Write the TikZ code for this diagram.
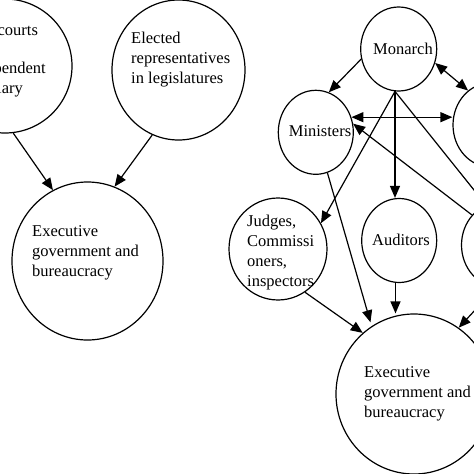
\documentclass[tikz,border=0pt]{standalone}
\usepackage{fontspec}
\setmainfont{Liberation Serif}
\usepackage{tikz}
\usetikzlibrary{shapes.geometric,arrows.meta,positioning}

\begin{document}
\begin{tikzpicture}[
    x=1pt, y=-1pt,
    actor/.style={ellipse, draw, line width=1.2pt, inner sep=0pt, minimum width=75pt, minimum height=84pt},
    txt/.style={inner sep=0pt, align=left, font=\fontsize{16.5}{20}\selectfont},
    flow/.style={-{Triangle[length=12pt,width=10pt]}, line width=1.2pt},
    twoway/.style={{Triangle[length=12pt,width=10pt]}-{Triangle[length=12pt,width=10pt]}, line width=1.2pt}
]
    \useasboundingbox (0,0) rectangle (474,474);
    \clip (0,0) rectangle (474,474);

    % left: two circles feeding the executive
    \node[actor, minimum width=134pt, minimum height=134pt] (courts) at (5,66) {};
    \node[actor, minimum width=133pt, minimum height=140pt] (elected) at (178.5,70) {};
    \node[actor, minimum width=151pt, minimum height=158pt] (execL) at (87.5,261) {};

    \node[txt, anchor=north west] (courts-l) at (-36,24) {Law courts\\[18.5pt]Independent\\judiciary};
    \node[txt, anchor=north west] (elected-l) at (131,32) {Elected\\representatives\\in legislatures};
    \node[txt, anchor=north west] (execL-l) at (32,225) {Executive\\government and\\bureaucracy};

    \draw[flow] (courts.277) -- (execL.116);
    \draw[flow] (elected.248) -- (execL.70);

    % right: the crown side
    \node[actor, minimum width=76pt] (monarch) at (398.7,49) {};
    \node[actor] (ministers) at (315.8,132.3) {};
    \node[actor] (parliament) at (490.5,125) {};
    \node[actor, minimum width=98pt, minimum height=102pt] (judges) at (278,249) {};
    \node[actor] (auditors) at (399.2,240.5) {};
    \node[actor] (ombudsman) at (499,245) {};
    \node[actor, minimum width=156pt, minimum height=160pt] (execR) at (414,394) {};

    \node[txt] (monarch-l) at (403,48.5) {Monarch};
    \node[txt] (ministers-l) at (320,131.5) {Ministers};
    \node[txt] (auditors-l) at (401,239.5) {Auditors};
    \node[txt, anchor=north west] (judges-l) at (247,215) {Judges,\\Commissi\\oners,\\inspectors};
    \node[txt, anchor=north west] (execR-l) at (364,366) {Executive\\government and\\bureaucracy};

    \draw[flow] (monarch.195) -- (ministers.72);
    \draw[twoway] (monarch.339) -- (parliament.123);
    \draw[twoway] (ministers.23) -- (ministers.23 -| parliament.west);
    \draw[flow] (ombudsman.132) -- (ministers.13);
    \draw[flow] (monarch.265) -- (monarch.265 |- auditors.north);
    \draw[flow] (monarch.265) -- (judges.31);
    \draw[flow] (monarch.265) -- (ombudsman.108);
    \draw[flow, shorten >=4pt] (ministers.286) -- (execR.122);
    \draw[flow] (judges.302) -- (execR.130);
    \draw[flow] (auditors.265) -- (auditors.265 |- execR.north);
    \draw[flow] (ombudsman.266) -- (execR.56);
\end{tikzpicture}
\end{document}
